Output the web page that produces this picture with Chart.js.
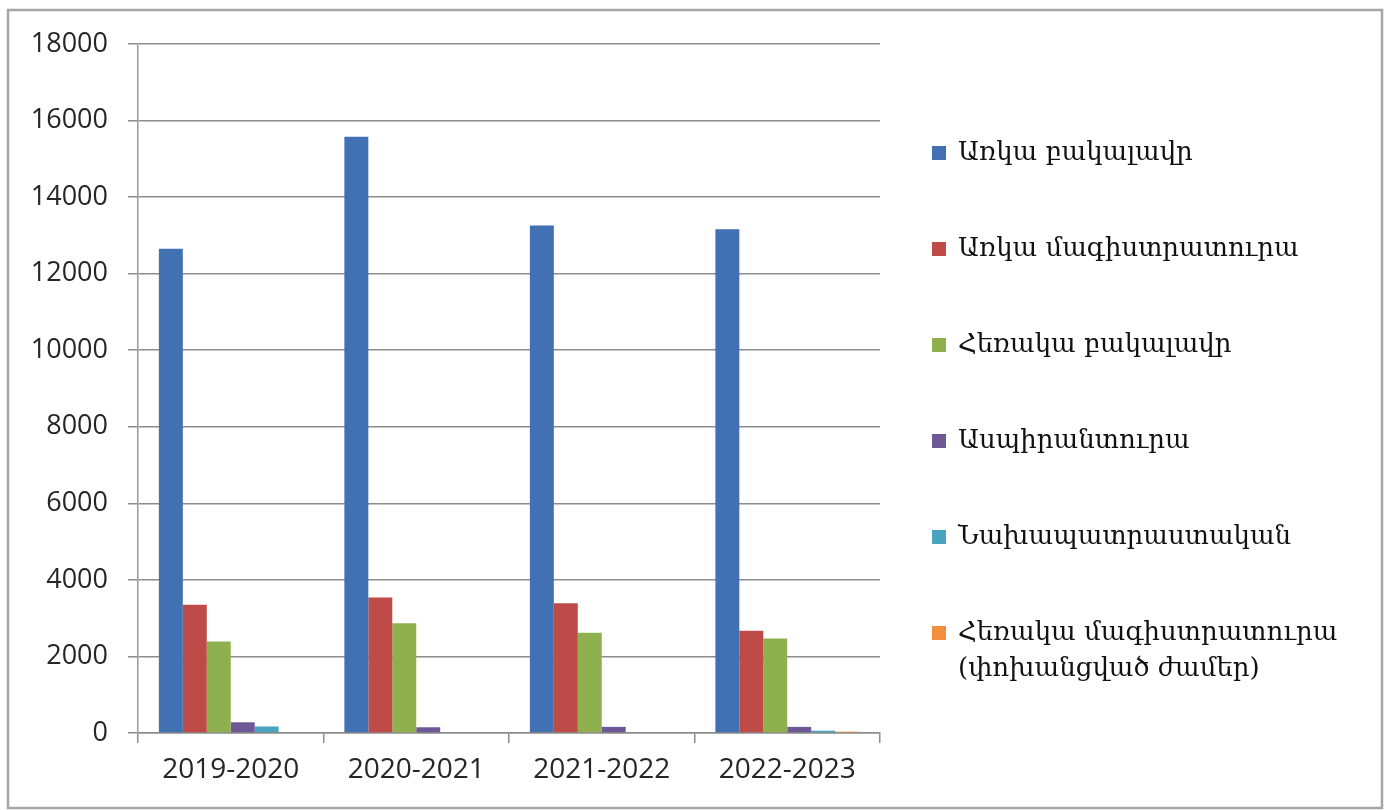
<!DOCTYPE html>
<html><head><meta charset="utf-8">
<script src="https://cdn.jsdelivr.net/npm/chart.js@4.4.0/dist/chart.umd.min.js"></script>
<style>html,body{margin:0;padding:0;background:#fff;overflow:hidden}</style>
</head><body>
<canvas id="c" width="1390" height="810"></canvas>
<script>
const categories = ['2019-2020', '2020-2021', '2021-2022', '2022-2023'];
const seriesNames = [
  'Առկա բակալավր',
  'Առկա մագիստրատուրա',
  'Հեռակա բակալավր',
  'Ասպիրանտուրա',
  'Նախապատրաստական',
  ['Հեռակա մագիստրատուրա', '(փոխանցված ժամեր)']
];
const fullTimeBachelor = [12650, 15580, 13260, 13160];
const fullTimeMaster = [3350, 3540, 3390, 2670];
const partTimeBachelor = [2390, 2870, 2620, 2470];
const postgraduate = [280, 150, 160, 160];
const preparatory = [170, 0, 0, 60];
const partTimeMaster = [0, 0, 0, 35];
const yTicks = [0, 2000, 4000, 6000, 8000, 10000, 12000, 14000, 16000, 18000];
const colors = ['#4171b2', '#be4b48', '#8fb04f', '#6e5896', '#4aa3bf', '#f38f3c'];

const seriesValues = [fullTimeBachelor, fullTimeMaster, partTimeBachelor, postgraduate, preparatory, partTimeMaster];

const frameAndLegend = {
  id: 'frameAndLegend',
  beforeDraw(chart) {
    const ctx = chart.ctx;
    ctx.save();
    ctx.fillStyle = '#ffffff';
    ctx.fillRect(0, 0, chart.width, chart.height);
    ctx.strokeStyle = '#a6a6a6';
    ctx.lineWidth = 2.5;
    ctx.strokeRect(8, 10, 1374, 798);
    ctx.restore();
  },
  afterDraw(chart) {
    const ctx = chart.ctx;
    const a = chart.chartArea;
    ctx.save();
    const family = '"DejaVu Serif", serif';
    ctx.font = '20px ' + family;
    const ref = ctx.measureText('Առկա մագիստրատուրա').width;
    const size = Math.max(14, Math.min(26, 20 * 362 / ref));
    ctx.font = size + 'px ' + family;
    ctx.textBaseline = 'middle';
    const x0 = a.right + 52;
    chart.data.datasets.forEach((ds, i) => {
      const yc = a.top + 109 + i * 96;
      ctx.fillStyle = ds.backgroundColor;
      ctx.fillRect(x0, yc - 7, 14, 14);
      ctx.fillStyle = '#111111';
      const lines = Array.isArray(ds.label) ? ds.label : [ds.label];
      lines.forEach((t, j) => ctx.fillText(t, x0 + 26, yc + j * 36));
    });
    ctx.restore();
  }
};

new Chart(document.getElementById('c'), {
  type: 'bar',
  data: {
    labels: categories,
    datasets: seriesValues.map((vals, i) => ({
      label: seriesNames[i],
      data: vals,
      backgroundColor: colors[i],
      borderWidth: 0,
      categoryPercentage: 0.775,
      barPercentage: 1
    }))
  },
  options: {
    responsive: false,
    animation: false,
    layout: { padding: { left: 0, top: 44, right: 510, bottom: 0 } },
    plugins: { legend: { display: false }, tooltip: { enabled: false } },
    scales: {
      x: {
        afterFit: s => { s.height = 77; },
        grid: { offset: true, drawOnChartArea: false, drawTicks: true, tickLength: 10, color: '#8c8c8c', lineWidth: 1.5 },
        border: { display: true, color: '#8c8c8c', width: 1.5 },
        ticks: { color: '#262626', font: { family: '"Open Sans", "Liberation Sans", sans-serif', size: 28 }, padding: 10 }
      },
      y: {
        min: 0, max: 18000,
        afterFit: s => { s.width = 138; },
        afterBuildTicks: s => { s.ticks = yTicks.map(v => ({ value: v })); },
        grid: { color: '#8c8c8c', lineWidth: 1.5, drawTicks: true, tickLength: 10 },
        border: { display: true, color: '#9a9a9a', width: 1.5 },
        ticks: {
          color: '#262626',
          font: { family: '"Open Sans", "Liberation Sans", sans-serif', size: 27 },
          padding: 20,
          callback: v => String(v)
        }
      }
    }
  },
  plugins: [frameAndLegend]
});
</script>
</body></html>
